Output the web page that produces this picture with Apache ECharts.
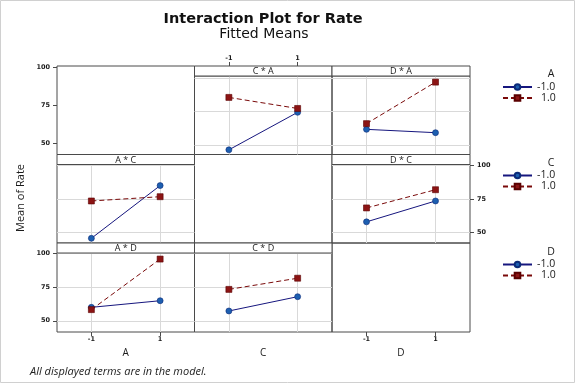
<!DOCTYPE html>
<html><head><meta charset="utf-8">
<script src="https://cdn.jsdelivr.net/npm/echarts@6/dist/echarts.min.js"></script>
<style>html,body{margin:0;padding:0;background:#fff}#c{width:576px;height:384px}</style>
</head><body><div id="c"></div>
<script>
// ---- data ----
const levels = [-1, 1];
const levelNames = ['-1.0', '1.0'];
const factors = ['A', 'C', 'D'];
const yTicks = [50, 75, 100];
const xTicks = [-1, 1];
// C * A panel (x = C, lines by A)
const caLow = [46.2, 74.4];
const caHigh = [85.6, 77.3];
// D * A panel (x = D, lines by A)
const daLow = [61.6, 59.1];
const daHigh = [65.9, 97.1];
// A * C panel (x = A, lines by C)
const acLow = [45.6, 85.0];
const acHigh = [73.5, 76.7];
// D * C panel (x = D, lines by C)
const dcLow = [57.9, 73.5];
const dcHigh = [68.3, 81.9];
// A * D panel (x = A, lines by D)
const adLow = [60.0, 64.9];
const adHigh = [58.3, 95.8];
// C * D panel (x = C, lines by D)
const cdLow = [57.3, 67.9];
const cdHigh = [73.3, 81.6];

// ---- layout ----
const colX = [57, 194.5, 332, 470];
const rowY = [66, 154.5, 243, 332];
const hdr = 10;
const rowRange = [[42.7, 101.7], [42.1, 100.75], [41.7, 100.3]];
const frameColor = '#4a4a4a';
const gridColor = '#d9d9d9';
const txt = '#1a1a1a';
const tickFont = {fontSize: 6.5, fontWeight: 'bold', color: txt, fontFamily: 'DejaVu Sans'};
const sansFont = "'Open Sans', 'Noto Sans', sans-serif";
const wideFont = "'DejaVu Sans', sans-serif";

const panels = [
  {r: 0, c: 1, title: 'C * A', low: caLow, high: caHigh},
  {r: 0, c: 2, title: 'D * A', low: daLow, high: daHigh},
  {r: 1, c: 0, title: 'A * C', low: acLow, high: acHigh},
  {r: 1, c: 2, title: 'D * C', low: dcLow, high: dcHigh},
  {r: 2, c: 0, title: 'A * D', low: adLow, high: adHigh},
  {r: 2, c: 1, title: 'C * D', low: cdLow, high: cdHigh}
];

const grids = [], xAxes = [], yAxes = [], series = [], graphics = [];

function findPanel(r, c) { return panels.find(p => p.r === r && p.c === c); }

for (let r = 0; r < 3; r++) {
  for (let c = 0; c < 3; c++) {
    const p = findPanel(r, c);
    const gi = grids.length;
    const left = colX[c], w = colX[c + 1] - colX[c];
    const top = p ? rowY[r] + hdr : rowY[r];
    const h = rowY[r + 1] - top;
    grids.push({left: left, top: top, width: w, height: h, show: true,
      borderColor: frameColor, borderWidth: 1, backgroundColor: 'transparent', containLabel: false});

    const xa = {gridIndex: gi, type: 'value', min: -2, max: 2,
      axisLine: {show: false, onZero: false},
      axisTick: {show: false, customValues: xTicks, length: 4, inside: false, lineStyle: {color: frameColor}},
      axisLabel: {show: false, customValues: xTicks, margin: 4, ...tickFont},
      splitLine: {show: !!p, lineStyle: {color: gridColor, width: 1}}};
    let ymin = rowRange[r][0], ymax = rowRange[r][1];
    if (!p && r === 0 && c === 0) { ymin = 42.8; ymax = 100.7; }
    const ya = {gridIndex: gi, type: 'value', min: ymin, max: ymax,
      axisLine: {show: false, onZero: false},
      axisTick: {show: false, customValues: yTicks, length: 4, lineStyle: {color: frameColor}},
      axisLabel: {show: false, customValues: yTicks, margin: 7, ...tickFont},
      splitLine: {show: !!p, lineStyle: {color: gridColor, width: 1}}};

    // labelled axes (Minitab alternating layout)
    if (r === 0 && c === 0) { ya.axisTick.show = true; ya.axisLabel.show = true; ya.position = 'left'; }
    if (r === 1 && c === 2) { ya.axisTick.show = true; ya.axisLabel.show = true; ya.position = 'right'; }
    if (r === 2 && c === 0) { ya.axisTick.show = true; ya.axisLabel.show = true; ya.position = 'left'; }
    if (r === 0 && c === 1) { xa.axisTick.show = true; xa.axisLabel.show = true; xa.position = 'top'; xa.offset = hdr; }
    if (r === 2) {
      xa.position = 'bottom';
      xa.name = factors[c];
      xa.nameLocation = 'middle';
      xa.nameGap = 16;
      xa.nameTextStyle = {fontSize: 10, color: txt, fontFamily: sansFont};
      if (c !== 1) { xa.axisTick.show = true; xa.axisLabel.show = true; }
    }
    xAxes.push(xa); yAxes.push(ya);

    if (p) {
      series.push({name: levelNames[0], type: 'line', xAxisIndex: gi, yAxisIndex: gi,
        data: levels.map((x, i) => [x, p.low[i]]),
        symbol: 'circle', symbolSize: 6,
        itemStyle: {color: '#1d5fb0', borderColor: '#0b2a78', borderWidth: 0.6},
        lineStyle: {color: '#16167e', width: 1}, animation: false, z: 3});
      series.push({name: levelNames[1], type: 'line', xAxisIndex: gi, yAxisIndex: gi,
        data: levels.map((x, i) => [x, p.high[i]]),
        symbol: 'rect', symbolSize: 6,
        itemStyle: {color: '#8c1414', borderColor: '#5a0000', borderWidth: 0.6},
        lineStyle: {color: '#7a0a0a', width: 1, type: [5, 3]}, animation: false, z: 3});
      // header strip
      graphics.push({type: 'rect', shape: {x: left, y: rowY[r], width: w, height: hdr},
        style: {fill: '#fff', stroke: frameColor, lineWidth: 1}, z: 10});
      graphics.push({type: 'text', x: left + w / 2, y: rowY[r] + hdr / 2 + 0.5,
        style: {text: p.title, fontSize: 9, fill: txt, align: 'center', verticalAlign: 'middle', fontFamily: sansFont}, z: 11});
    }
  }
}

// legends
const legendTops = [81.5, 170, 259];
const legendTitleY = [74, 163, 252];
const legends = factors.map((f, i) => ({
  data: levelNames, orient: 'vertical', left: 502, top: legendTops[i], padding: 0,
  itemWidth: 29, itemHeight: 7, itemGap: 0, selectedMode: false,
  formatter: name => name.charAt(0) === '-' ? '{v|' + name + '}' : '{p|' + name + '}',
  textStyle: {fontSize: 10.5, color: txt, fontFamily: sansFont, lineHeight: 11,
    rich: {v: {fontSize: 10.5, fontFamily: sansFont, color: txt},
           p: {fontSize: 10.5, fontFamily: sansFont, color: txt, padding: [0, 0, 0, 4]}}}
}));
factors.forEach((f, i) => {
  graphics.push({type: 'text', x: 551, y: legendTitleY[i],
    style: {text: f, fontSize: 10.5, fill: txt, align: 'center', verticalAlign: 'middle', fontFamily: sansFont}});
});

// titles
graphics.push({type: 'text', x: 263, y: 19,
  style: {text: 'Interaction Plot for Rate', fontSize: 14.5, fontWeight: 'bold', fill: '#111', align: 'center', verticalAlign: 'middle', fontFamily: wideFont}});
graphics.push({type: 'text', x: 264, y: 34,
  style: {text: 'Fitted Means', fontSize: 14, fill: '#111', align: 'center', verticalAlign: 'middle', fontFamily: wideFont}});

// y axis title, footnote, outer border
graphics.push({type: 'text', x: 21, y: 198, rotation: Math.PI / 2,
  style: {text: 'Mean of Rate', fontSize: 11, fill: txt, align: 'center', verticalAlign: 'middle', fontFamily: sansFont}});
graphics.push({type: 'text', x: 30, y: 372,
  style: {text: 'All displayed terms are in the model.', fontSize: 11, fontStyle: 'italic', fill: '#222', align: 'left', verticalAlign: 'middle', fontFamily: sansFont}});
graphics.push({type: 'rect', shape: {x: 0.5, y: 0.5, width: 574, height: 382},
  style: {fill: 'none', stroke: '#d0d0d0', lineWidth: 1}, silent: true});

const chart = echarts.init(document.getElementById('c'), null, {renderer: 'canvas'});
chart.setOption({
  animation: false,
  backgroundColor: '#fff',
  grid: grids, xAxis: xAxes, yAxis: yAxes, series: series, legend: legends,
  graphic: graphics
});
</script></body></html>
